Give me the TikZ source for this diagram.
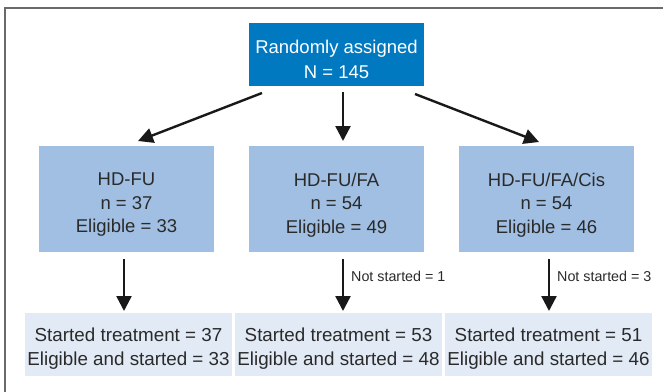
\documentclass[tikz,border=0pt]{standalone}
\usepackage{fontspec}
\setmainfont{Liberation Sans}
\usetikzlibrary{arrows.meta}
\definecolor{topblue}{HTML}{0079C1}
\definecolor{midblue}{HTML}{A0BFE2}
\definecolor{lowblue}{HTML}{E1EAF5}
\definecolor{txt}{HTML}{2A2A2A}
\definecolor{frame}{HTML}{6A6A6A}
\tikzset{
  topbox/.style={fill=topblue, minimum width=175pt, minimum height=63pt, inner sep=0pt},
  midbox/.style={fill=midblue, minimum width=175pt, minimum height=106pt, inner sep=0pt},
  lowbox/.style={fill=lowblue, minimum width=207pt, minimum height=63pt, inner sep=0pt},
  toptext/.style={text=white, inner sep=0pt, align=center, font=\fontsize{18.5}{25}\selectfont},
  midtext/.style={text=txt, inner sep=0pt, align=center, font=\fontsize{18.5}{23.5}\selectfont},
  lowtext/.style={text=txt, inner sep=0pt, align=center, font=\fontsize{18.8}{24}\selectfont},
  arr/.style={line width=2.4pt, draw=black!90, -{Triangle[width=15pt,length=15pt]}},
  note/.style={anchor=west, text=txt, inner sep=0pt, font=\fontsize{14.3}{16}\selectfont}
}
\begin{document}
\begin{tikzpicture}[x=1pt,y=-1pt]
\useasboundingbox (0,0) rectangle (663,391);
\draw[frame, line width=1.6pt] (5,392) -- (5,8) -- (664,8);
\node[topbox] (top) at (336.5,54.5) {};
\node[toptext] (toptx) at ([yshift=-5pt]top.center) {Randomly assigned\\N = 145};
\node[midbox] (m1) at (126.5,199) {};
\node[midbox] (m2) at (336.5,199) {};
\node[midbox] (m3) at (546.5,199) {};
\node[midtext] (m1tx) at ([yshift=-6pt]m1.center) {HD-FU\\n = 37\\Eligible = 33};
\node[midtext] (m2tx) at ([yshift=-6pt]m2.center) {HD-FU/FA\\n = 54\\Eligible = 49};
\node[midtext] (m3tx) at ([yshift=-6pt]m3.center) {HD-FU/FA/Cis\\n = 54\\Eligible = 46};
\node[lowbox] (b1) at (128.5,344.5) {};
\node[lowbox] (b2) at (338.5,344.5) {};
\node[lowbox] (b3) at (548.5,344.5) {};
\node[lowtext] (b1tx) at ([yshift=-4pt]b1.center) {Started treatment = 37\\Eligible and started = 33};
\node[lowtext] (b2tx) at ([yshift=-4pt]b2.center) {Started treatment = 53\\Eligible and started = 48};
\node[lowtext] (b3tx) at ([yshift=-4pt]b3.center) {Started treatment = 51\\Eligible and started = 46};
\coordinate (s1) at (262,93);
\coordinate (e1) at (138,141);
\coordinate (s2) at (343,92);
\coordinate (e2) at (343,141);
\coordinate (s3) at (415,94);
\coordinate (e3) at (539,142);
\coordinate (t1) at (124,259);
\coordinate (u1) at (124,311);
\coordinate (t2) at (343,259);
\coordinate (u2) at (343,311);
\coordinate (t3) at (549,259);
\coordinate (u3) at (549,311);
\draw[arr] (s1) -- (e1);
\draw[arr] (s2) -- (e2);
\draw[arr] (s3) -- (e3);
\draw[arr] (t1) -- (u1);
\draw[arr] (t2) -- (u2);
\draw[arr] (t3) -- (u3);
\node[note] (n2) at (351,276) {Not started = 1};
\node[note] (n3) at (557,276) {Not started = 3};
\end{tikzpicture}
\end{document}
